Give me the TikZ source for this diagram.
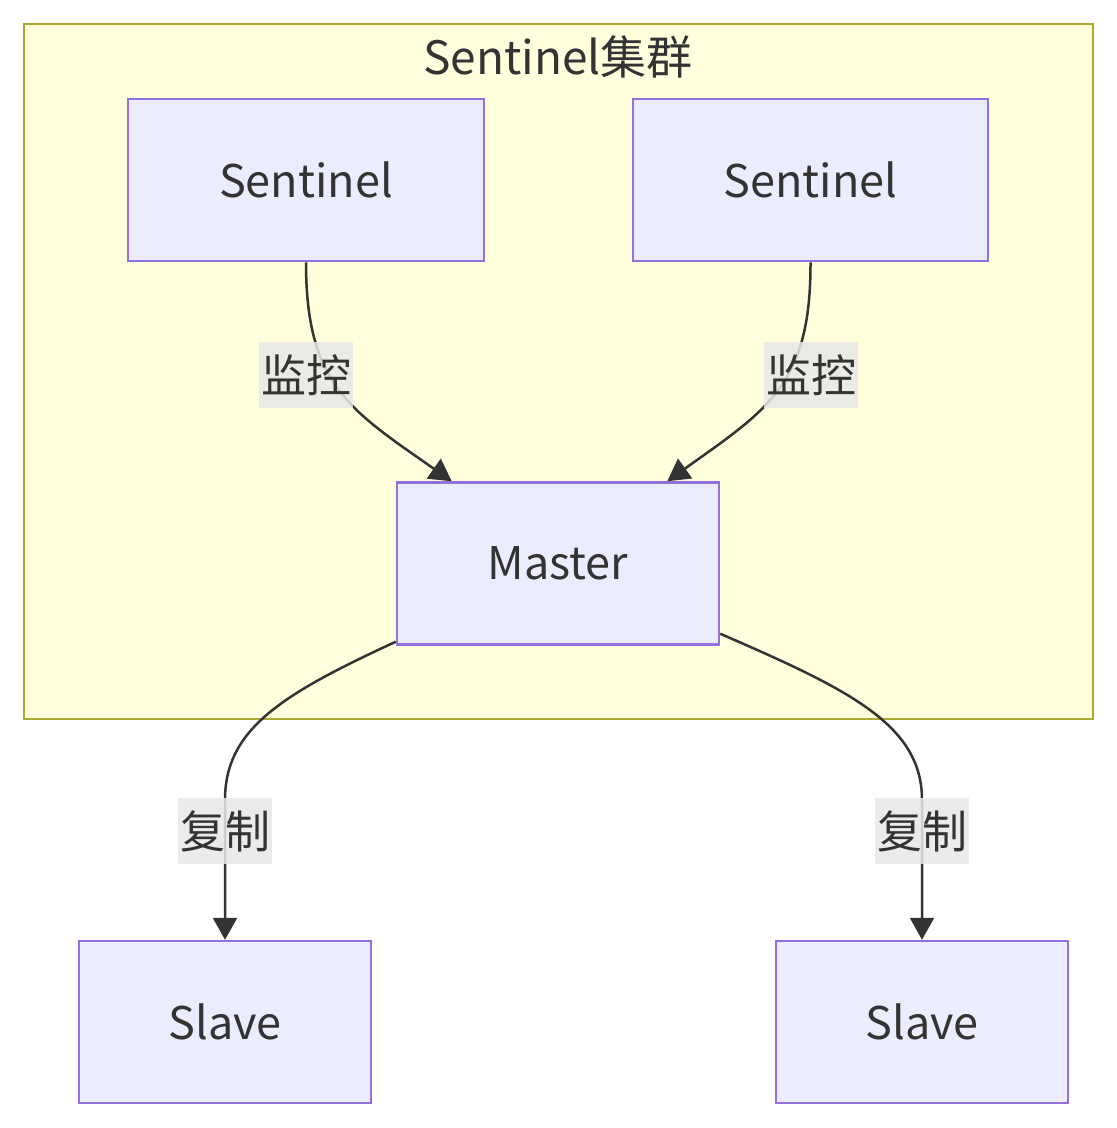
\documentclass[tikz,border=0pt]{standalone}
\usepackage{fontspec}
\setmainfont{Noto Sans CJK SC}
\usetikzlibrary{arrows.meta,calc}
\definecolor{clfill}{HTML}{FFFFDE}
\definecolor{clborder}{HTML}{AAAA33}
\definecolor{nfill}{HTML}{ECECFF}
\definecolor{nborder}{HTML}{9370DB}
\definecolor{txt}{HTML}{333333}
\definecolor{lblbg}{HTML}{E8E8E8}
\tikzset{
  box/.style={draw=nborder, fill=nfill, line width=2.5pt, minimum height=162pt, text=txt, font=\fontsize{45}{54}\selectfont, inner sep=0pt},
  lbl/.style={fill=lblbg, fill opacity=0.85, text opacity=1, text=txt, minimum width=94pt, minimum height=66pt, inner sep=0pt, font=\fontsize{45}{54}\selectfont},
  edge/.style={draw=txt, line width=2.5pt, -{Triangle[length=22pt,width=24pt]}},
}
\begin{document}
\begin{tikzpicture}[x=1pt,y=-1pt]
\useasboundingbox (0,0) rectangle (1117,1128);
\fill[white] (0,0) rectangle (1117,1128);
\draw[draw=clborder, fill=clfill, line width=2.5pt] (24,24) rectangle (1093,719);
\node[text=txt, font=\fontsize{46}{55}\selectfont] (title) at (558,57) {Sentinel集群};
\node[box, minimum width=356pt] (s1) at (306,180) {Sentinel};
\node[box, minimum width=355pt] (s2) at (810.5,180) {Sentinel};
\node[box, minimum width=322pt] (m) at (558,563.5) {Master};
\node[box, minimum width=292pt] (sl1) at (225,1022) {Slave};
\node[box, minimum width=292pt] (sl2) at (922,1022) {Slave};
\draw[edge] (s1.south) .. controls (306,385) and (350,410) .. ($(m.north west)+(56,0)$);
\draw[edge] (s2.south) .. controls (811,385) and (767,410) .. ($(m.north east)+(-53,0)$);
\draw[edge] ($(m.south west)+(0,-4)$) .. controls (280,695) and (225,730) .. (225,800) -- (sl1.north);
\draw[edge] ($(m.south east)+(0,-12)$) .. controls (850,690) and (922,725) .. (922,800) -- (sl2.north);
\node[lbl] (l1) at (306,375) {监控};
\node[lbl] (l2) at (811,375) {监控};
\node[lbl] (l3) at (225,831) {复制};
\node[lbl] (l4) at (922,831) {复制};
\end{tikzpicture}
\end{document}
